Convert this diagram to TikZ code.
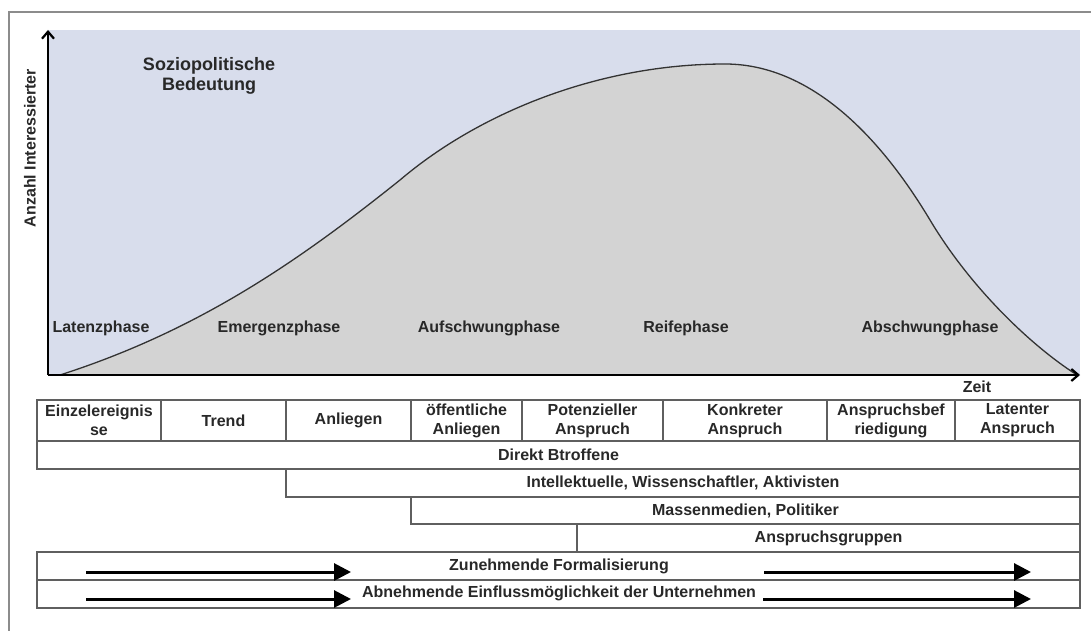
\documentclass[tikz,border=0pt]{standalone}
\usepackage{fontspec}
\setmainfont{Liberation Sans}
\usetikzlibrary{arrows.meta}
\definecolor{bgblue}{RGB}{216,221,236}
\definecolor{hill}{RGB}{211,211,211}
\definecolor{tabline}{RGB}{95,95,95}
\definecolor{framegray}{RGB}{140,140,140}
\definecolor{txt}{RGB}{40,40,40}
\def\myhillcurve{(60,375) .. controls (200,330) and (300,260) .. (400,180)
  .. controls (480,112) and (600,64) .. (725,64)
  .. controls (800,64) and (870,120) .. (930,220)
  .. controls (970,287) and (1030,345) .. (1077,375)}
\begin{document}
\begin{tikzpicture}[x=1pt,y=-1pt,
  font=\fontsize{16}{19}\selectfont\bfseries,
  every node/.style={text=txt},
  cell/.style={draw=tabline, line width=1.8pt, inner sep=0pt, align=center},
  rowbox/.style={cell, minimum height=28pt},
  lbl/.style={inner sep=0pt},
  axis/.style={line width=2.6pt, -{Straight Barb[length=7pt,width=12pt,line width=2.2pt]}},
  fat/.style={line width=3pt, -{Triangle[length=17pt,width=17pt]}}]
\useasboundingbox (0,0) rectangle (1091,631);
% outer frame
\draw[framegray, line width=2pt] (9,631) -- (9,12) -- (1091,12);
% chart background
\fill[bgblue] (48,30) rectangle (1080,375);
% hill
\fill[hill] \myhillcurve -- cycle;
\draw[black!80, line width=1.3pt] \myhillcurve;
% axes
\coordinate (origin) at (48,375);
\coordinate (ytip) at (48,30);
\coordinate (xtip) at (1080,375);
\draw[axis] (origin) -- (ytip);
\draw[axis] (origin) -- (xtip);
\node[lbl, rotate=90] (ylab) at (30,148) {Anzahl Interessierter};
\node[lbl, align=center, font=\fontsize{18}{20}\selectfont\bfseries] (title) at (209,76) {Soziopolitische\\Bedeutung};
\node[lbl] (zeit) at (977,387) {Zeit};
% phase labels
\node[lbl] (p1) at (101,328) {Latenzphase};
\node[lbl] (p2) at (279,328) {Emergenzphase};
\node[lbl] (p3) at (489,328) {Aufschwungphase};
\node[lbl] (p4) at (686,328) {Reifephase};
\node[lbl] (p5) at (930,328) {Abschwungphase};
% table row 1
\node[cell, minimum width=124pt, minimum height=41pt] (c1) at (99,420.5) {Einzelereignis\\se};
\node[cell, minimum width=125pt, minimum height=41pt] (c2) at (223.5,420.5) {Trend};
\node[cell, minimum width=125pt, minimum height=41pt] (c3) at (348.5,420.5) {Anliegen};
\node[cell, minimum width=111pt, minimum height=41pt] (c4) at (466.5,420.5) {öffentliche\\Anliegen};
\node[cell, minimum width=141pt, minimum height=41pt] (c5) at (592.5,420.5) {Potenzieller\\Anspruch};
\node[cell, minimum width=164pt, minimum height=41pt] (c6) at (745,420.5) {Konkreter\\Anspruch};
\node[cell, minimum width=128pt, minimum height=41pt] (c7) at (891,420.5) {Anspruchsbef\\riedigung};
\node[cell, minimum width=125pt, minimum height=41pt] (c8) at (1017.5,420.5) {Latenter\\Anspruch};
% actor rows
\node[rowbox, minimum width=1043pt] (r1) at (558.5,455) {Direkt Btroffene};
\node[rowbox, minimum width=794pt] (r2) at (683,483) {Intellektuelle, Wissenschaftler, Aktivisten};
\node[rowbox, minimum width=669pt, minimum height=27pt] (r3) at (745.5,510.5) {Massenmedien, Politiker};
\node[rowbox, minimum width=503pt] (r4) at (828.5,538) {Anspruchsgruppen};
% trend rows
\node[rowbox, minimum width=1043pt] (r5) at (558.5,566) {};
\node[lbl] (t5) at (559,566) {Zunehmende Formalisierung};
\node[rowbox, minimum width=1043pt] (r6) at (558.5,594) {};
\node[lbl] (t6) at (559,593) {Abnehmende Einflussmöglichkeit der Unternehmen};
\coordinate (a1s) at (86,572);
\coordinate (a1e) at (351,572);
\coordinate (a2s) at (764,572);
\coordinate (a2e) at (1031,572);
\coordinate (b1s) at (86,599);
\coordinate (b1e) at (351,599);
\coordinate (b2s) at (763,599);
\coordinate (b2e) at (1031,599);
\draw[fat] (a1s) -- (a1e);
\draw[fat] (a2s) -- (a2e);
\draw[fat] (b1s) -- (b1e);
\draw[fat] (b2s) -- (b2e);
\end{tikzpicture}
\end{document}
